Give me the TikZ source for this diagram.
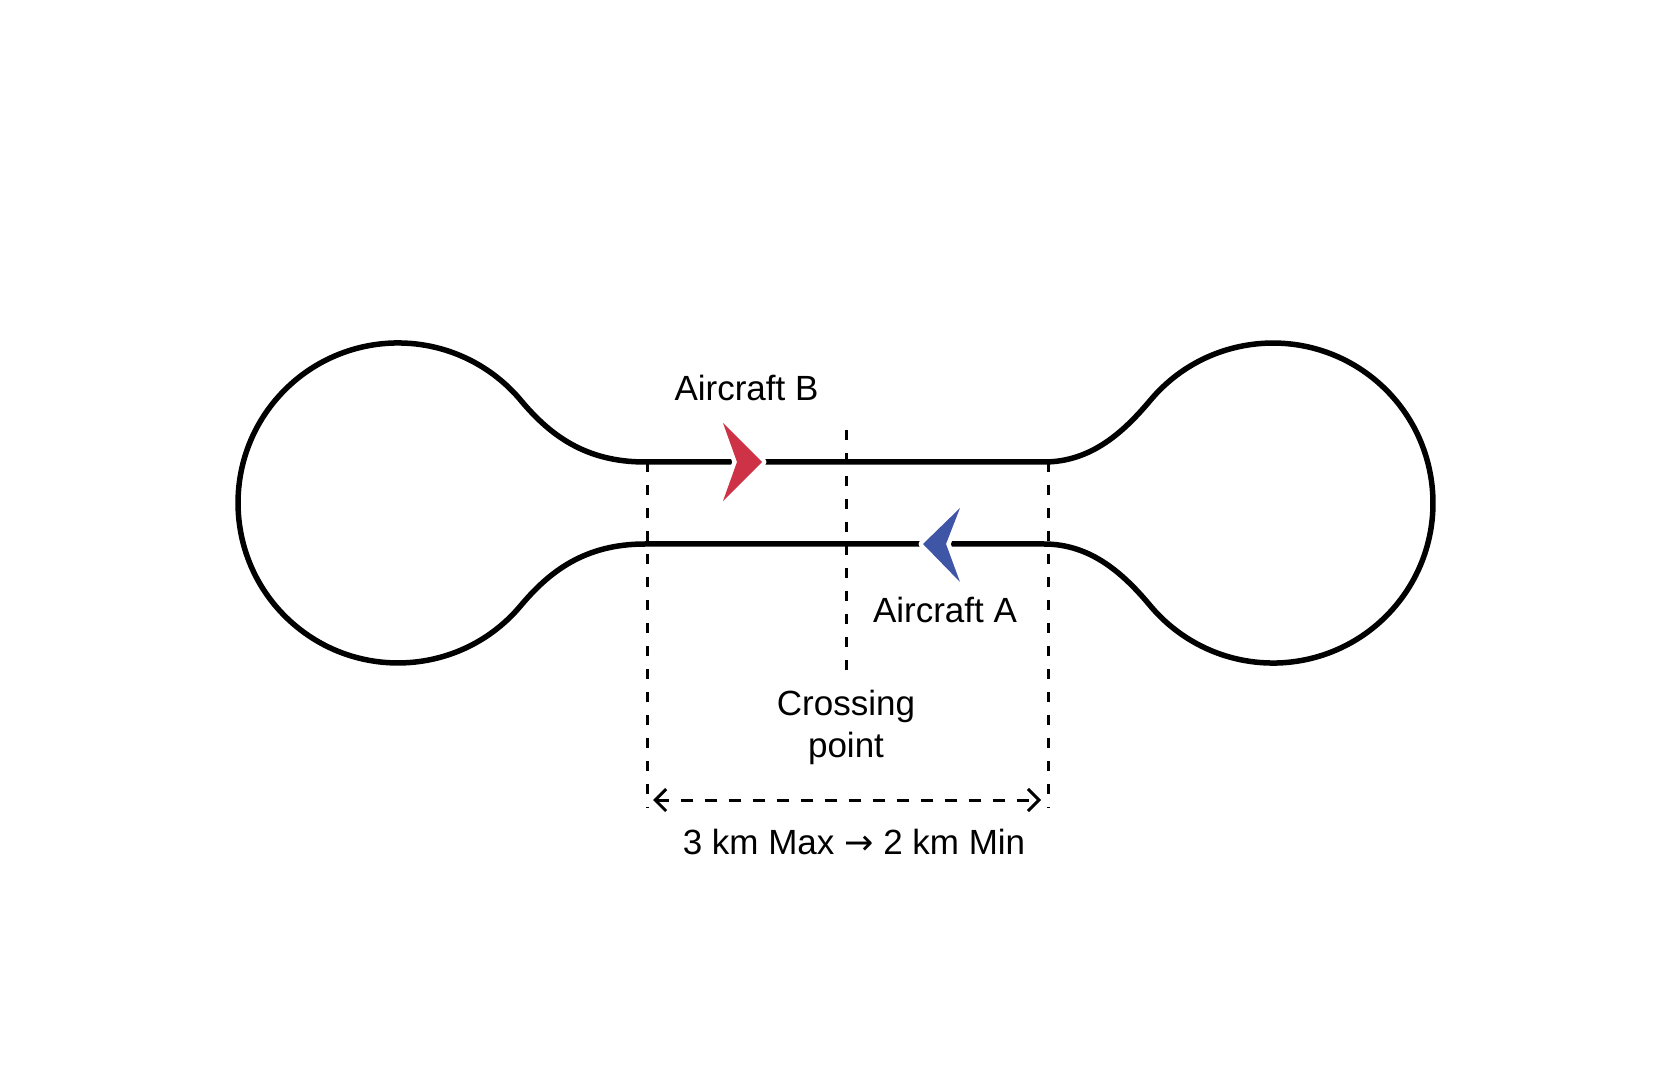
\documentclass[tikz,border=0pt]{standalone}
\usepackage{fontspec}
\setmainfont{Liberation Sans}
\newfontfamily\arrowfont{DejaVu Sans}
\usetikzlibrary{arrows.meta}
\definecolor{acred}{HTML}{CD3246}
\definecolor{acblue}{HTML}{3F56A6}
\begin{document}
\begin{tikzpicture}[x=1pt,y=1pt,
  track/.style={line width=5.5pt, line join=round},
  guide/.style={line width=3pt, dash pattern=on 10pt off 13pt},
  dimline/.style={line width=3pt, dash pattern=on 12pt off 12pt},
  lbl/.style={font=\fontsize{35}{42}\selectfont, inner sep=0pt},
  halo/.style={draw=white, fill=white, line width=9pt, line join=round}]
\useasboundingbox[fill=white] (0,0) rectangle (1680,1088);

% track outline
\draw[track] (645,626) -- (1044,626)
  .. controls (1092,626) and (1124.7,657.2) .. (1150.4,687.8)
  arc[start angle=140, end angle=-140, radius=160pt]
  .. controls (1124.7,512.8) and (1092,544) .. (1044,544)
  -- (645,544)
  .. controls (585,544) and (549.5,516.7) .. (520.6,482.2)
  arc[start angle=-40, end angle=-320, radius=160pt]
  .. controls (549.5,653.3) and (585,626) .. (645,626) -- cycle;

% guide coordinates
\coordinate (gl1) at (647,626);
\coordinate (gl2) at (647,280);
\coordinate (gr1) at (1048,626);
\coordinate (gr2) at (1048,280);
\coordinate (gm1) at (846,658);
\coordinate (gm2) at (846,415);
\coordinate (da) at (653,288);
\coordinate (db) at (1041,288);

\draw[guide] (gl1) -- (gl2);
\draw[guide] (gr1) -- (gr2);
\draw[guide] (gm1) -- (gm2);
\draw[dimline, {Straight Barb[length=11pt,width=22pt]}-{Straight Barb[length=11pt,width=22pt]}] (da) -- (db);

% aircraft B (red, heading right)
\path[halo] (762,626) -- (723,665) -- (737,626) -- (723,587) -- cycle;
\fill[acred] (762,626) coordinate (pb) -- (723,665) -- (737,626) -- (723,587) -- cycle;

% aircraft A (blue, heading left)
\path[halo] (923,544) -- (960,580) -- (946,544) -- (960,506) -- cycle;
\fill[acblue] (923,544) coordinate (pa) -- (960,580) -- (946,544) -- (960,506) -- cycle;

% labels
\node[lbl, anchor=base] (lb) at (746.5,687) {Aircraft B};
\node[lbl, anchor=base] (la) at (945,465) {Aircraft A};
\node[lbl, align=center] (lc) at (846,361) {Crossing\\point};
\node[lbl, anchor=base] (ld) at (854,234) {3 km Max {\arrowfont →} 2 km Min};
\end{tikzpicture}
\end{document}
